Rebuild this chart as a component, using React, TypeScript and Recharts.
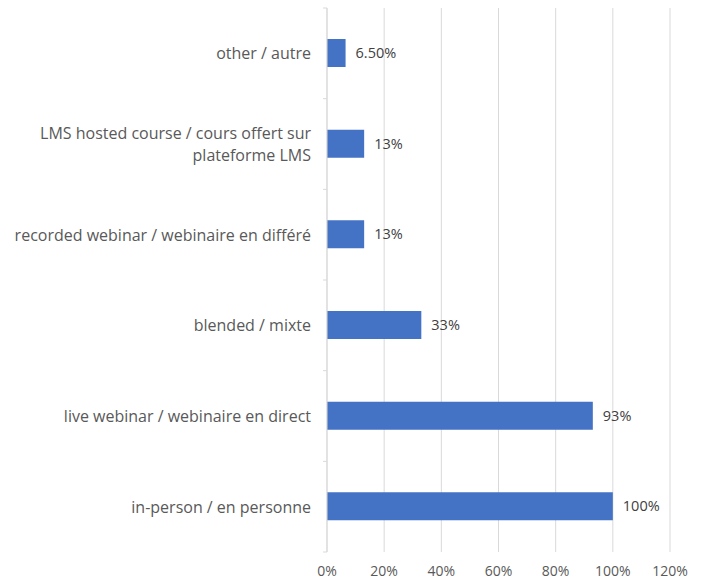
import { BarChart, Bar, XAxis, YAxis, CartesianGrid, LabelList } from "recharts";

const categories = [
  "other / autre",
  "LMS hosted course / cours offert sur\nplateforme LMS",
  "recorded webinar / webinaire en différé",
  "blended / mixte",
  "live webinar / webinaire en direct",
  "in-person / en personne",
];
const shares = [6.5, 13, 13, 33, 93, 100];
const xTicks = [0, 20, 40, 60, 80, 100, 120];

const data = categories.map((name, i) => ({ name, value: shares[i] }));

const FONT = "'Open Sans', Lato, sans-serif";
const TEXT = "#595959";
const GRID = "#d9d9d9";
const WIDTH = 702;
const HEIGHT = 582;
const MARGIN = { top: 8, right: 32, bottom: 0, left: 0 };
const X_AXIS_H = 30;
const PLOT_H = HEIGHT - MARGIN.top - MARGIN.bottom - X_AXIS_H;

// Excel-style category ticks: labels centred, marks on the band boundaries
function CategoryTick(props: any) {
  const { x, y, payload, index } = props;
  const band = PLOT_H / categories.length;
  const lines = String(payload.value).split("\n");
  const axisX = x + 16;
  const lineH = 22;
  const startDy = -((lines.length - 1) * lineH) / 2;
  return (
    <g>
      <line x1={axisX - 4} x2={axisX} y1={y - band / 2} y2={y - band / 2} stroke={GRID} />
      {index === categories.length - 1 && (
        <line x1={axisX - 4} x2={axisX} y1={y + band / 2} y2={y + band / 2} stroke={GRID} />
      )}
      <text
        x={x}
        y={y}
        textAnchor="end"
        fill={TEXT}
        fontSize={16}
        fontFamily={FONT}
        dominantBaseline="central"
      >
        {lines.map((l, i) => (
          <tspan key={i} x={x} dy={i === 0 ? startDy : lineH}>
            {l}
          </tspan>
        ))}
      </text>
    </g>
  );
}

export default function App() {
  return (
    <div style={{ position: "absolute", left: 0, top: 0, background: "#fff" }}>
      <BarChart
        width={WIDTH}
        height={HEIGHT}
        data={data}
        layout="vertical"
        margin={MARGIN}
        barSize={28}
      >
        <CartesianGrid horizontal={false} stroke={GRID} />
        <XAxis
          type="number"
          domain={[0, 120]}
          ticks={xTicks}
          tickFormatter={(v: number) => `${v}%`}
          axisLine={false}
          tickLine={false}
          tickSize={0}
          tickMargin={14}
          height={X_AXIS_H}
          tick={{ fill: TEXT, fontSize: 14, fontFamily: FONT }}
          interval={0}
        />
        <YAxis
          type="category"
          dataKey="name"
          width={327}
          axisLine={{ stroke: GRID }}
          tickLine={false}
          tickSize={0}
          tickMargin={16}
          tick={<CategoryTick />}
          interval={0}
        />
        <Bar dataKey="value" fill="#4472c4" isAnimationActive={false}>
          <LabelList
            dataKey="value"
            position="right"
            offset={10}
            formatter={(v: any) => (Number(v) % 1 ? `${Number(v).toFixed(2)}%` : `${v}%`)}
            style={{ fill: "#404040", fontSize: 14.5, fontFamily: FONT }}
          />
        </Bar>
      </BarChart>
    </div>
  );
}
